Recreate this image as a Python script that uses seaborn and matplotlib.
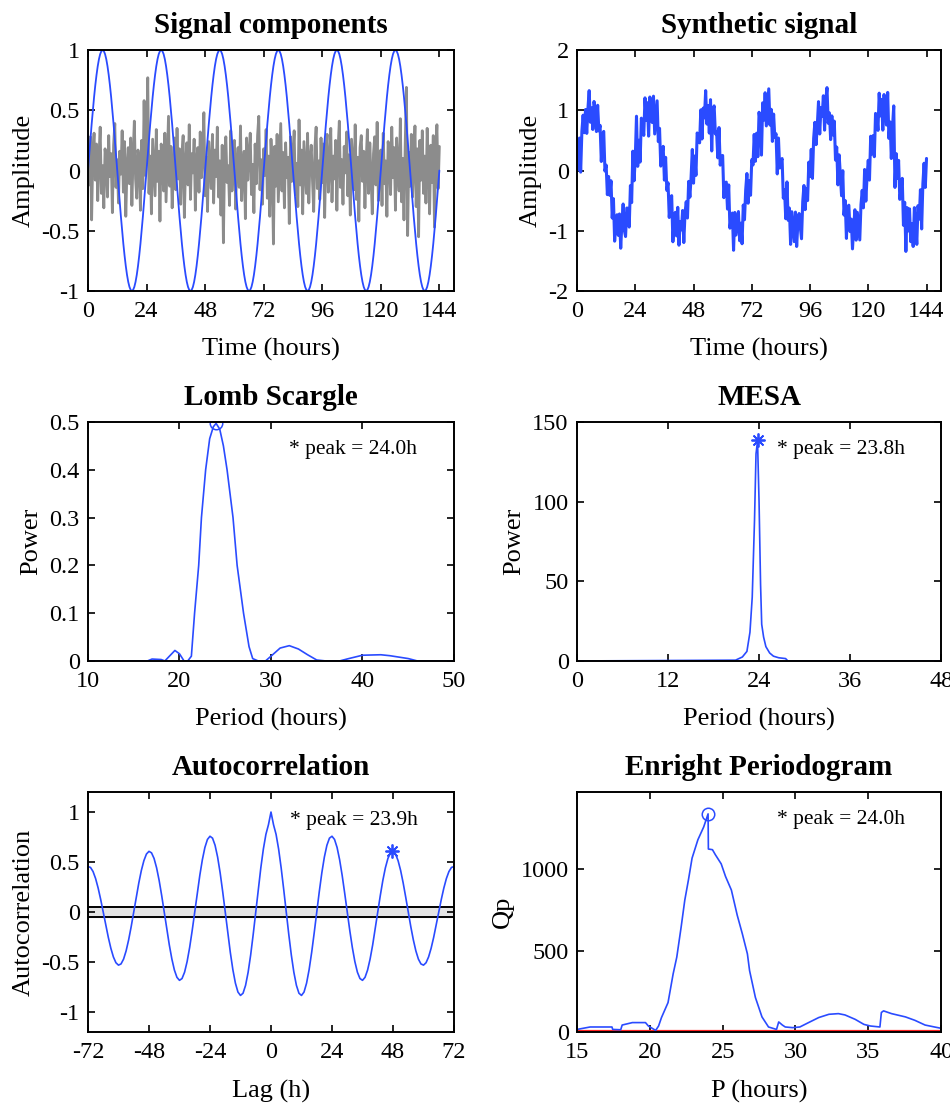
import numpy as np
import pandas as pd
import matplotlib
matplotlib.use("Agg")
import matplotlib.pyplot as plt
import seaborn as sns

# ---------------- data ----------------
# time grid in hours (0.5 h steps)
time_h = np.arange(0, 144.5, 0.5)

# circadian component (24 h sine), one value per half hour
sine_component = [
    0.000, 0.131, 0.259, 0.383, 0.500, 0.609, 0.707, 0.793, 0.866, 0.924, 0.966, 0.991, 1.000, 0.991, 0.966, 0.924, 0.866, 0.793, 0.707, 0.609, 0.500, 0.383, 0.259, 0.131,
    0.000, -0.131, -0.259, -0.383, -0.500, -0.609, -0.707, -0.793, -0.866, -0.924, -0.966, -0.991, -1.000, -0.991, -0.966, -0.924, -0.866, -0.793, -0.707, -0.609, -0.500, -0.383, -0.259, -0.131,
    0.000, 0.131, 0.259, 0.383, 0.500, 0.609, 0.707, 0.793, 0.866, 0.924, 0.966, 0.991, 1.000, 0.991, 0.966, 0.924, 0.866, 0.793, 0.707, 0.609, 0.500, 0.383, 0.259, 0.131,
    0.000, -0.131, -0.259, -0.383, -0.500, -0.609, -0.707, -0.793, -0.866, -0.924, -0.966, -0.991, -1.000, -0.991, -0.966, -0.924, -0.866, -0.793, -0.707, -0.609, -0.500, -0.383, -0.259, -0.131,
    0.000, 0.131, 0.259, 0.383, 0.500, 0.609, 0.707, 0.793, 0.866, 0.924, 0.966, 0.991, 1.000, 0.991, 0.966, 0.924, 0.866, 0.793, 0.707, 0.609, 0.500, 0.383, 0.259, 0.131,
    0.000, -0.131, -0.259, -0.383, -0.500, -0.609, -0.707, -0.793, -0.866, -0.924, -0.966, -0.991, -1.000, -0.991, -0.966, -0.924, -0.866, -0.793, -0.707, -0.609, -0.500, -0.383, -0.259, -0.131,
    0.000, 0.131, 0.259, 0.383, 0.500, 0.609, 0.707, 0.793, 0.866, 0.924, 0.966, 0.991, 1.000, 0.991, 0.966, 0.924, 0.866, 0.793, 0.707, 0.609, 0.500, 0.383, 0.259, 0.131,
    0.000, -0.131, -0.259, -0.383, -0.500, -0.609, -0.707, -0.793, -0.866, -0.924, -0.966, -0.991, -1.000, -0.991, -0.966, -0.924, -0.866, -0.793, -0.707, -0.609, -0.500, -0.383, -0.259, -0.131,
    0.000, 0.131, 0.259, 0.383, 0.500, 0.609, 0.707, 0.793, 0.866, 0.924, 0.966, 0.991, 1.000, 0.991, 0.966, 0.924, 0.866, 0.793, 0.707, 0.609, 0.500, 0.383, 0.259, 0.131,
    0.000, -0.131, -0.259, -0.383, -0.500, -0.609, -0.707, -0.793, -0.866, -0.924, -0.966, -0.991, -1.000, -0.991, -0.966, -0.924, -0.866, -0.793, -0.707, -0.609, -0.500, -0.383, -0.259, -0.131,
    0.000, 0.131, 0.259, 0.383, 0.500, 0.609, 0.707, 0.793, 0.866, 0.924, 0.966, 0.991, 1.000, 0.991, 0.966, 0.924, 0.866, 0.793, 0.707, 0.609, 0.500, 0.383, 0.259, 0.131,
    0.000, -0.131, -0.259, -0.383, -0.500, -0.609, -0.707, -0.793, -0.866, -0.924, -0.966, -0.991, -1.000, -0.991, -0.966, -0.924, -0.866, -0.793, -0.707, -0.609, -0.500, -0.383, -0.259, -0.131,
    0.000,
]

# measurement noise component, one value per half hour
noise_component = [
    0.05, -0.12, 0.28, -0.41, 0.15, 0.31, -0.08, 0.22, -0.25, 0.11, 0.36, -0.19, 0.04, -0.31, 0.18, 0.07, -0.22, 0.29, -0.05, 0.14, -0.35, 0.21, 0.39, -0.14,
    0.09, -0.27, 0.16, -0.03, 0.33, -0.18, 0.24, -0.38, 0.02, 0.19, -0.11, 0.27, -0.29, 0.13, 0.41, -0.07, -0.23, 0.17, 0.08, -0.33, 0.25, -0.15, 0.58, -0.04,
    0.21, 0.77, -0.19, 0.12, -0.36, 0.26, 0.03, -0.21, 0.34, -0.09, 0.16, -0.42, 0.22, 0.06, -0.17, 0.31, -0.26, 0.10, 0.45, -0.13, 0.20, -0.31, 0.01, 0.27,
    -0.16, 0.35, -0.07, 0.18, -0.28, 0.12, 0.29, -0.39, 0.05, 0.23, -0.12, 0.38, -0.24, 0.14, -0.02, 0.26, -0.33, 0.09, 0.19, -0.18, 0.32, -0.06, 0.15, 0.48,
    -0.21, 0.11, -0.34, 0.24, 0.07, -0.15, 0.30, -0.27, 0.17, -0.05, 0.36, -0.22, 0.08, -0.37, 0.21, -0.60, 0.13, 0.28, -0.10, 0.04, -0.29, 0.33, -0.17, 0.10,
    0.25, -0.32, 0.06, 0.19, -0.14, 0.37, -0.25, 0.02, 0.16, -0.40, 0.27, -0.08, 0.13, 0.31, -0.20, 0.05, -0.35, 0.22, -0.11, 0.29, 0.45, -0.16, 0.09, -0.28,
    0.18, -0.04, 0.34, -0.23, 0.12, -0.38, 0.26, 0.01, -0.61, 0.20, -0.13, 0.30, -0.26, 0.07, 0.39, -0.17, 0.15, -0.31, 0.23, -0.06, 0.11, -0.44, 0.28, -0.09,
    0.14, 0.33, -0.20, 0.06, -0.30, 0.42, -0.12, 0.17, -0.36, 0.24, 0.03, -0.19, 0.31, -0.27, 0.10, 0.21, -0.08, -0.34, 0.19, 0.36, -0.15, 0.08, -0.24, 0.27,
    -0.10, 0.22, -0.39, 0.15, 0.30, -0.18, 0.04, 0.35, -0.26, 0.12, -0.07, 0.25, -0.33, 0.18, 0.41, -0.14, 0.09, -0.28, 0.20, -0.02, 0.32, -0.21, 0.13, -0.37,
    0.26, 0.05, -0.16, 0.38, -0.24, 0.11, -0.42, 0.19, 0.29, -0.09, 0.16, -0.31, 0.07, 0.34, -0.19, 0.23, -0.05, -0.36, 0.14, 0.28, -0.12, 0.40, -0.25, 0.03,
    0.17, -0.29, 0.31, -0.11, 0.08, -0.38, 0.24, 0.13, -0.20, 0.36, -0.06, 0.19, -0.33, 0.27, 0.02, -0.17, 0.43, -0.26, 0.10, -0.41, 0.22, 0.69, -0.54, 0.15,
    -0.13, 0.30, -0.22, 0.06, 0.37, -0.30, 0.18, -0.55, 0.25, -0.08, 0.33, -0.19, 0.12, -0.27, 0.35, 0.04, -0.36, 0.21, -0.10, 0.29, -0.47, 0.16, 0.38, -0.15,
    0.20,
]

synthetic_signal = np.array(sine_component) + np.array(noise_component)

# Lomb-Scargle periodogram
ls_period = [10, 16.5, 17, 18, 18.4, 19, 19.5, 20, 20.5, 20.9, 21.3, 21.65, 22.1, 22.4, 22.86, 23.3, 23.7,
             24.0, 24.4, 24.8, 25.2, 25.85, 26.3, 27.0, 27.6, 28.0, 28.6, 29.4, 30, 31, 32, 33, 34,
             35, 36, 37.5, 38.5, 40, 42, 43, 45, 46, 50]
ls_power = [0, 0, 0.004, 0.003, 0, 0.012, 0.022, 0.015, 0.0, 0.0, 0.01, 0.10, 0.20, 0.30, 0.40, 0.465, 0.49,
            0.497, 0.485, 0.45, 0.40, 0.30, 0.20, 0.10, 0.03, 0.005, 0.0, 0.0, 0.01, 0.027, 0.032, 0.025, 0.013,
            0.002, 0.0, 0.0, 0.005, 0.012, 0.013, 0.011, 0.005, 0.0, 0]
ls_peak_period, ls_peak_power = 24.0, 0.497

# maximum entropy spectral analysis
mesa_period = [0, 20.9, 21.8, 22.4, 22.8, 23.1, 23.4, 23.6, 23.8, 24.0, 24.2, 24.35, 24.6, 24.9, 25.4,
               25.9, 26.6, 27.5, 27.8, 48]
mesa_power = [0, 0.5, 2.5, 6, 18, 40, 88, 130, 138, 100, 48, 23, 15, 9, 5, 3, 2, 1.5, 0, 0]
mesa_peak_period, mesa_peak_power = 23.8, 139

# autocorrelation for lags 0..72 h (the function is symmetric in lag)
acf_lag_pos = np.arange(0, 73)
acf_pos = [
    1.000, 0.873, 0.777, 0.630, 0.442, 0.227, 0.000, -0.224, -0.430, -0.603, -0.733, -0.812,
    -0.834, -0.800, -0.711, -0.576, -0.404, -0.208, 0.000, 0.204, 0.392, 0.550, 0.668, 0.739,
    0.758, 0.726, 0.646, 0.523, 0.367, 0.188, 0.000, -0.185, -0.354, -0.496, -0.602, -0.665,
    -0.683, -0.653, -0.580, -0.469, -0.329, -0.168, 0.000, 0.165, 0.316, 0.442, 0.536, 0.592,
    0.607, 0.580, 0.514, 0.416, 0.291, 0.149, 0.000, -0.146, -0.278, -0.389, -0.471, -0.519,
    -0.531, -0.507, -0.449, -0.362, -0.253, -0.129, 0.000, 0.126, 0.240, 0.335, 0.405, 0.446,
    0.455,
]
acf_lag = np.concatenate([-acf_lag_pos[::-1], acf_lag_pos[1:]])
acf_values = np.concatenate([np.array(acf_pos)[::-1], np.array(acf_pos)[1:]])
acf_conf = 0.053
acf_peak_lag, acf_peak_value = 47.8, 0.607

# Enright chi-square periodogram
en_period = [15, 15.9, 17.4, 17.45, 18.0, 18.1, 18.8, 19.7, 19.9, 20.4, 20.6, 20.8, 21.25, 21.6, 21.85,
             22.15, 22.4, 22.65, 22.9, 23.3, 23.7, 24.0, 24.02, 24.3, 24.5, 24.9, 25.2, 25.6, 26.0,
             26.35, 26.7, 26.85, 27.25, 27.7, 28.15, 28.7, 28.85, 29.1, 29.3, 29.8, 30.3, 30.9, 31.6,
             32.3, 32.95, 33.4, 34.1, 34.7, 35.15, 35.8, 35.9, 36.05, 36.6, 37.55, 38.2, 38.9, 39.55, 40]
en_qp = [16, 31, 31, 16, 14, 43, 58, 58, 37, 10, 37, 89, 181, 357, 460,
         645, 810, 934, 1068, 1181, 1260, 1340, 1124, 1120, 1089, 1033, 955, 872, 718,
         604, 480, 377, 212, 93, 31, 16, 62, 43, 31, 27, 31, 58, 89,
         109, 113, 105, 78, 47, 37, 31, 120, 130, 113, 93, 72, 43, 31, 23]
en_threshold = 9
en_peak_period, en_peak_qp = 24.0, 1340

# ---------------- style ----------------
sns.set_theme(style="ticks")
plt.rcParams.update({
    "font.family": ["Liberation Serif", "DejaVu Serif"],
    "axes.unicode_minus": False,
    "xtick.direction": "in",
    "ytick.direction": "in",
    "xtick.top": True,
    "ytick.right": True,
    "axes.linewidth": 1.4,
    "axes.edgecolor": "black",
    "axes.labelcolor": "black",
    "xtick.color": "black",
    "ytick.color": "black",
    "text.color": "black",
    "xtick.major.size": 5,
    "ytick.major.size": 5,
    "xtick.major.width": 1.2,
    "ytick.major.width": 1.2,
    "xtick.major.pad": 7,
    "ytick.major.pad": 6,
    "xtick.labelsize": 17.5,
    "ytick.labelsize": 17.5,
    "axes.labelsize": 19,
    "axes.titlesize": 21,
    "axes.titleweight": "bold",
})

BLUE = "#2a4bff"
GRAY = "#8c8c8c"
NOTE_SIZE = 15.5

fig = plt.figure(figsize=(9.5, 11.09), dpi=100)
col_x = [0.0926, 0.6074]
col_w = [0.3853, 0.3832]
row_y = [0.7376, 0.4040, 0.0694]
row_h = [0.2173, 0.2155, 0.2164]


def make_axes(r, c):
    return fig.add_axes([col_x[c], row_y[r], col_w[c], row_h[r]])


def finish(ax, title, xlabel, ylabel):
    ax.set_title(title, pad=12)
    ax.set_xlabel(xlabel, labelpad=12)
    ax.set_ylabel(ylabel, labelpad=5)
    for s in ax.spines.values():
        s.set_visible(True)
        s.set_color("black")


# Signal components
ax = make_axes(0, 0)
sns.lineplot(x=time_h, y=noise_component, ax=ax, color=GRAY, lw=2.0, estimator=None, sort=False)
sns.lineplot(x=time_h, y=sine_component, ax=ax, color=BLUE, lw=1.3, estimator=None, sort=False)
ax.set_xlim(0, 150)
ax.set_ylim(-1, 1)
ax.set_xticks([0, 24, 48, 72, 96, 120, 144])
ax.set_yticks([-1, -0.5, 0, 0.5, 1], labels=["-1", "-0.5", "0", "0.5", "1"])
finish(ax, "Signal components", "Time (hours)", "Amplitude")

# Synthetic signal
ax = make_axes(0, 1)
sns.lineplot(x=time_h, y=synthetic_signal, ax=ax, color=BLUE, lw=2.2, estimator=None, sort=False)
ax.set_xlim(0, 150)
ax.set_ylim(-2, 2)
ax.set_xticks([0, 24, 48, 72, 96, 120, 144])
ax.set_yticks([-2, -1, 0, 1, 2], labels=["-2", "-1", "0", "1", "2"])
finish(ax, "Synthetic signal", "Time (hours)", "Amplitude")

# Lomb Scargle
ax = make_axes(1, 0)
sns.lineplot(x=ls_period, y=ls_power, ax=ax, color=BLUE, lw=1.2, estimator=None, sort=False)
ax.plot([ls_peak_period], [ls_peak_power], marker="o", ms=9, mfc="none", mec=BLUE, mew=1.1, ls="none")
ax.text(32.0, 0.442, f"* peak = {ls_peak_period:.1f}h", fontsize=NOTE_SIZE, va="center", ha="left")
ax.set_xlim(10, 50)
ax.set_ylim(0, 0.5)
ax.set_xticks([10, 20, 30, 40, 50])
ax.set_yticks([0, 0.1, 0.2, 0.3, 0.4, 0.5], labels=["0", "0.1", "0.2", "0.3", "0.4", "0.5"])
finish(ax, "Lomb Scargle", "Period (hours)", "Power")

# MESA
ax = make_axes(1, 1)
sns.lineplot(x=mesa_period, y=mesa_power, ax=ax, color=BLUE, lw=1.2, estimator=None, sort=False)
ax.plot([mesa_peak_period], [mesa_peak_power], marker=(8, 2, 0), ms=10, mec=BLUE, mew=1.3, ls="none")
ax.text(26.4, 132.7, f"* peak = {mesa_peak_period:.1f}h", fontsize=NOTE_SIZE, va="center", ha="left")
ax.set_xlim(0, 48)
ax.set_ylim(0, 150)
ax.set_xticks([0, 12, 24, 36, 48])
ax.set_yticks([0, 50, 100, 150])
finish(ax, "MESA", "Period (hours)", "Power")

# Autocorrelation
ax = make_axes(2, 0)
ax.axhspan(-acf_conf, acf_conf, color="#e4e4e4", zorder=0)
ax.axhline(acf_conf, color="black", lw=1.4, zorder=1)
ax.axhline(-acf_conf, color="black", lw=1.4, zorder=1)
sns.lineplot(x=acf_lag, y=acf_values, ax=ax, color=BLUE, lw=1.2, estimator=None, sort=False, zorder=2)
ax.plot([acf_peak_lag], [acf_peak_value], marker=(8, 2, 0), ms=10, mec=BLUE, mew=1.3, ls="none", zorder=3)
ax.text(7.3, 0.92, f"* peak = {acf_peak_lag / 2:.1f}h", fontsize=NOTE_SIZE, va="center", ha="left")
ax.set_xlim(-72, 72)
ax.set_ylim(-1.2, 1.2)
ax.set_xticks([-72, -48, -24, 0, 24, 48, 72], labels=["-72", "-48", "-24", "0", "24", "48", "72"])
ax.set_yticks([-1, -0.5, 0, 0.5, 1], labels=["-1", "-0.5", "0", "0.5", "1"])
finish(ax, "Autocorrelation", "Lag (h)", "Autocorrelation")

# Enright periodogram
ax = make_axes(2, 1)
ax.axhline(en_threshold, color="#ff2020", lw=1.6, zorder=1)
sns.lineplot(x=en_period, y=en_qp, ax=ax, color=BLUE, lw=1.2, estimator=None, sort=False, zorder=2)
ax.plot([en_peak_period], [en_peak_qp], marker="o", ms=9, mfc="none", mec=BLUE, mew=1.1, ls="none")
ax.text(28.7, 1305, f"* peak = {en_peak_period:.1f}h", fontsize=NOTE_SIZE, va="center", ha="left")
ax.set_xlim(15, 40)
ax.set_ylim(0, 1.1 * max(en_qp))
ax.set_xticks([15, 20, 25, 30, 35, 40])
ax.set_yticks([0, 500, 1000])
finish(ax, "Enright Periodogram", "P (hours)", "Qp")

fig.savefig("out.png", dpi=100, facecolor="white")
